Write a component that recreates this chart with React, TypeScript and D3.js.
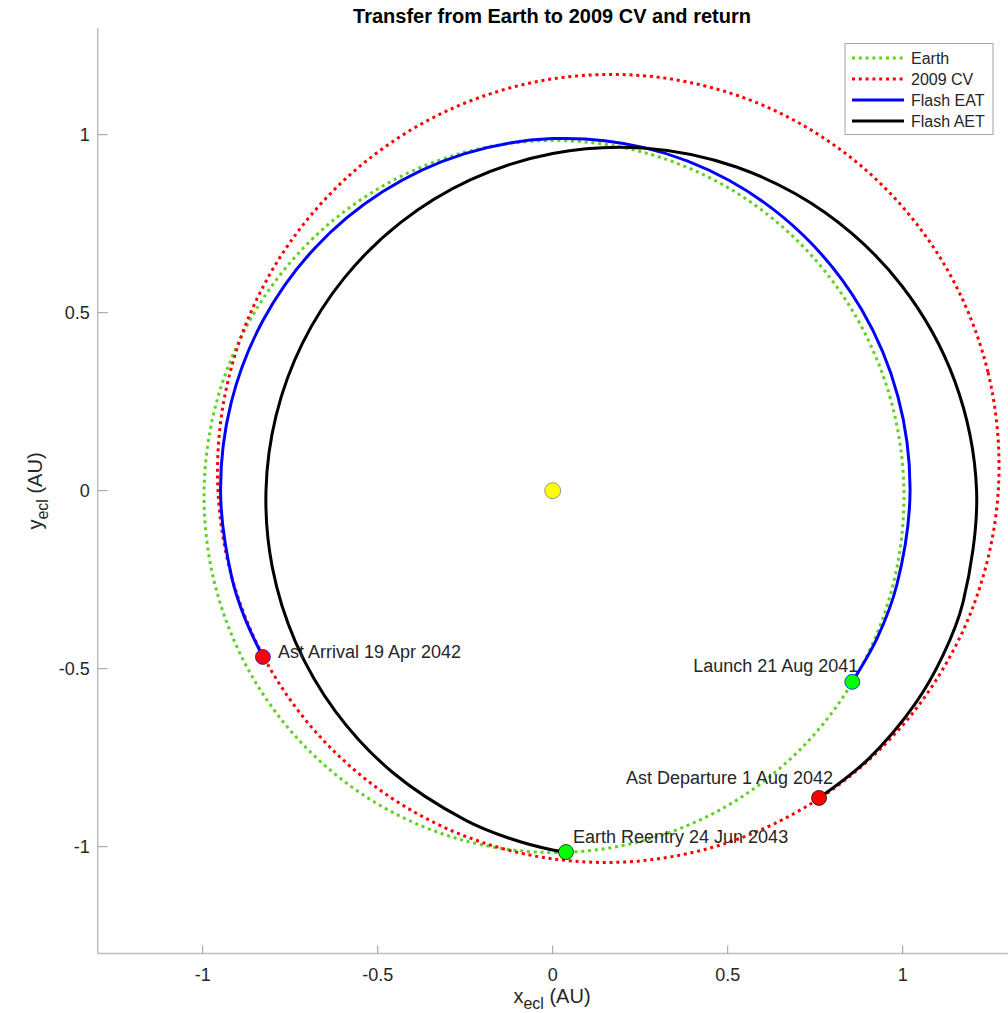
import * as React from 'react';
import * as d3 from 'd3';

type Pt = [number, number];

// Orbits in ecliptic x/y (AU)
const earthOrbit: Pt[] = [
  [1.0035, 0], [0.965, 0.2586], [0.8615, 0.4974], [0.7007, 0.7007], [0.4938, 0.8553],
  [0.255, 0.9516], [0, 0.9837], [-0.2545, 0.9498], [-0.492, 0.8521], [-0.6971, 0.6971],
  [-0.8561, 0.4943], [-0.9582, 0.2567], [-0.996, 0], [-0.9662, -0.2589], [-0.87, -0.5023],
  [-0.7132, -0.7132], [-0.5061, -0.8765], [-0.2626, -0.9801], [0, -1.0163], [0.2631, -0.982],
  [0.508, -0.8798], [0.717, -0.717], [0.8757, -0.5056], [0.9733, -0.2608],
];

const cvOrbit: Pt[] = [
  [1.2731, 0], [1.2436, 0.3332], [1.1141, 0.6433], [0.898, 0.898], [0.6202, 1.0742],
  [0.3109, 1.1603], [0, 1.1569], [-0.2876, 1.0735], [-0.5341, 0.925], [-0.728, 0.728],
  [-0.8637, 0.4987], [-0.9396, 0.2518], [-0.9563, 0], [-0.916, -0.2454], [-0.8217, -0.4745],
  [-0.6774, -0.6774], [-0.4878, -0.8449], [-0.2591, -0.9671], [0, -1.0343], [0.2778, -1.037],
  [0.5587, -0.9677], [0.8224, -0.8224], [1.0452, -0.6035], [1.2025, -0.3222],
];

// Earth -> asteroid transfer (launch to arrival)
const eatArc: Pt[] = [
  [0.856, -0.537], [0.9276, -0.413], [0.9835, -0.2635], [1.021, 0], [0.9864, 0.2643],
  [0.8822, 0.5094], [0.7168, 0.7168], [0.5034, 0.8719], [0.2584, 0.9643], [0, 0.989],
  [-0.2535, 0.9461], [-0.4852, 0.8404], [-0.6806, 0.6806], [-0.8279, 0.478], [-0.919, 0.2463],
  [-0.949, 0], [-0.9166, -0.2456], [-0.8805, -0.3557], [-0.828, -0.467],
];

// asteroid -> Earth transfer (departure to reentry)
const aetArc: Pt[] = [
  [0.761, -0.863], [0.9001, -0.7553], [1.0359, -0.5981], [1.1153, -0.462], [1.1721, -0.3141],
  [1.2111, 0], [1.1488, 0.3078], [0.9973, 0.5758], [0.7801, 0.7801], [0.5249, 0.9092],
  [0.2579, 0.9627], [0, 0.9474], [-0.2341, 0.8737], [-0.4348, 0.7531], [-0.5964, 0.5964],
  [-0.7155, 0.4131], [-0.7902, 0.2117], [-0.8192, 0], [-0.8012, -0.2147], [-0.7351, -0.4244],
  [-0.6203, -0.6203], [-0.4571, -0.7916], [-0.2481, -0.926], [-0.1283, -0.9749], [0, -1.0093],
  [0.038, -1.015],
];

const eventNames = ['Launch 21 Aug 2041', 'Ast Arrival 19 Apr 2042', 'Ast Departure 1 Aug 2042', 'Earth Reentry 24 Jun 2043'];
const eventX = [0.856, -0.828, 0.761, 0.038];
const eventY = [-0.537, -0.467, -0.863, -1.015];

const legendNames = ['Earth', '2009 CV', 'Flash EAT', 'Flash AET'];
const xTicks = [-1, -0.5, 0, 0.5, 1];
const yTicks = [-1, -0.5, 0, 0.5, 1];

const W = 1008;
const H = 1013;
const FONT = '"Liberation Sans", Arial, Helvetica, sans-serif';
const TXT = '#262626';
const AXIS = '#bdbdbd';
const GREEN = '#5fd21f';

// per-series style, same order as legendNames
const seriesStyle = [
  { color: GREEN, dash: '3 3.8' },
  { color: '#ff0000', dash: '3 3.8' },
  { color: '#0000ff', dash: null },
  { color: '#000000', dash: null },
];

// marker look + label placement (px offsets from the marker)
const eventStyle = [
  { fill: '#00ff00', stroke: '#0000ff', dx: 6, dy: -10, anchor: 'end' },
  { fill: '#ff0000', stroke: '#0000ff', dx: 15, dy: 1, anchor: 'start' },
  { fill: '#ff0000', stroke: '#000000', dx: 14, dy: -14, anchor: 'end' },
  { fill: '#00ff00', stroke: '#000000', dx: 7, dy: -9, anchor: 'start' },
];

export default function App() {
  const x = d3.scaleLinear().domain([-1.3, 1.3]).range([97.7, 1007.7]);
  const y = d3.scaleLinear().domain([-1.3, 1.3]).range([953.5, 27.9]);

  const closed = d3.line<Pt>().x((d) => x(d[0])).y((d) => y(d[1])).curve(d3.curveCatmullRomClosed.alpha(0.5));
  const open = d3.line<Pt>().x((d) => x(d[0])).y((d) => y(d[1])).curve(d3.curveCatmullRom.alpha(0.5));

  const paths = [closed(earthOrbit), closed(cvOrbit), open(eatArc), open(aetArc)];

  const x0 = x(-1.3);
  const yb = y(-1.3);

  return (
    <div style={{ position: 'absolute', left: 0, top: 0 }}>
      <svg width={W} height={H} style={{ display: 'block', background: '#fff' }} fontFamily={FONT}>
        <rect width={W} height={H} fill="#fff" />

        {/* axes */}
        <line x1={x0} x2={x0} y1={y(1.3)} y2={yb} stroke={AXIS} strokeWidth={1.5} />
        <line x1={x0} x2={x(1.3)} y1={yb} y2={yb} stroke={AXIS} strokeWidth={1.5} />
        {xTicks.map((t) => (
          <g key={'x' + t}>
            <line x1={x(t)} x2={x(t)} y1={yb} y2={yb - 8} stroke="#9a9a9a" strokeWidth={1} />
            <text x={x(t)} y={yb + 27} textAnchor="middle" fontSize={18} fill={TXT}>{t}</text>
          </g>
        ))}
        {yTicks.map((t) => (
          <g key={'y' + t}>
            <line x1={x0} x2={x0 + 10} y1={y(t)} y2={y(t)} stroke="#9a9a9a" strokeWidth={1} />
            <text x={x0 - 8} y={y(t) + 6} textAnchor="end" fontSize={18} fill={TXT}>{t}</text>
          </g>
        ))}

        {/* orbits and transfer arcs */}
        {paths.map((d, i) => (
          <path
            key={legendNames[i]}
            d={d ?? ''}
            fill="none"
            stroke={seriesStyle[i].color}
            strokeWidth={3}
            strokeDasharray={seriesStyle[i].dash ?? undefined}
          />
        ))}

        {/* sun */}
        <circle cx={x(0)} cy={y(0)} r={8} fill="#ffff00" stroke="#7f7f7f" strokeWidth={0.8} />

        {/* events */}
        {eventNames.map((name, i) => {
          const cx = x(eventX[i]);
          const cy = y(eventY[i]);
          const s = eventStyle[i];
          return (
            <g key={name}>
              <circle cx={cx} cy={cy} r={7.5} fill={s.fill} stroke={s.stroke} strokeWidth={0.7} />
              <text x={cx + s.dx} y={cy + s.dy} textAnchor={s.anchor} fontSize={18} fill={TXT}>{name}</text>
            </g>
          );
        })}

        {/* title */}
        <text x={552} y={23} textAnchor="middle" fontSize={20} fontWeight="bold" fill="#000">
          Transfer from Earth to 2009 CV and return
        </text>

        {/* axis labels */}
        <text x={552} y={1003} textAnchor="middle" fontSize={20} fill={TXT}>
          x<tspan fontSize={16} dy={6}>ecl</tspan><tspan dy={-6}> (AU)</tspan>
        </text>
        <text transform="translate(42,491) rotate(-90)" textAnchor="middle" fontSize={20} fill={TXT}>
          y<tspan fontSize={16} dy={6}>ecl</tspan><tspan dy={-6}> (AU)</tspan>
        </text>

        {/* legend */}
        <g>
          <rect x={845} y={43.5} width={148} height={91} fill="#fff" stroke="#a6a6a6" strokeWidth={1} />
          {legendNames.map((name, i) => {
            const ly = 58 + i * 21;
            return (
              <g key={name}>
                <line
                  x1={852}
                  x2={904}
                  y1={ly}
                  y2={ly}
                  stroke={seriesStyle[i].color}
                  strokeWidth={3}
                  strokeDasharray={seriesStyle[i].dash ?? undefined}
                />
                <text x={911} y={ly + 5.5} fontSize={16} fill={TXT}>{name}</text>
              </g>
            );
          })}
        </g>
      </svg>
    </div>
  );
}
